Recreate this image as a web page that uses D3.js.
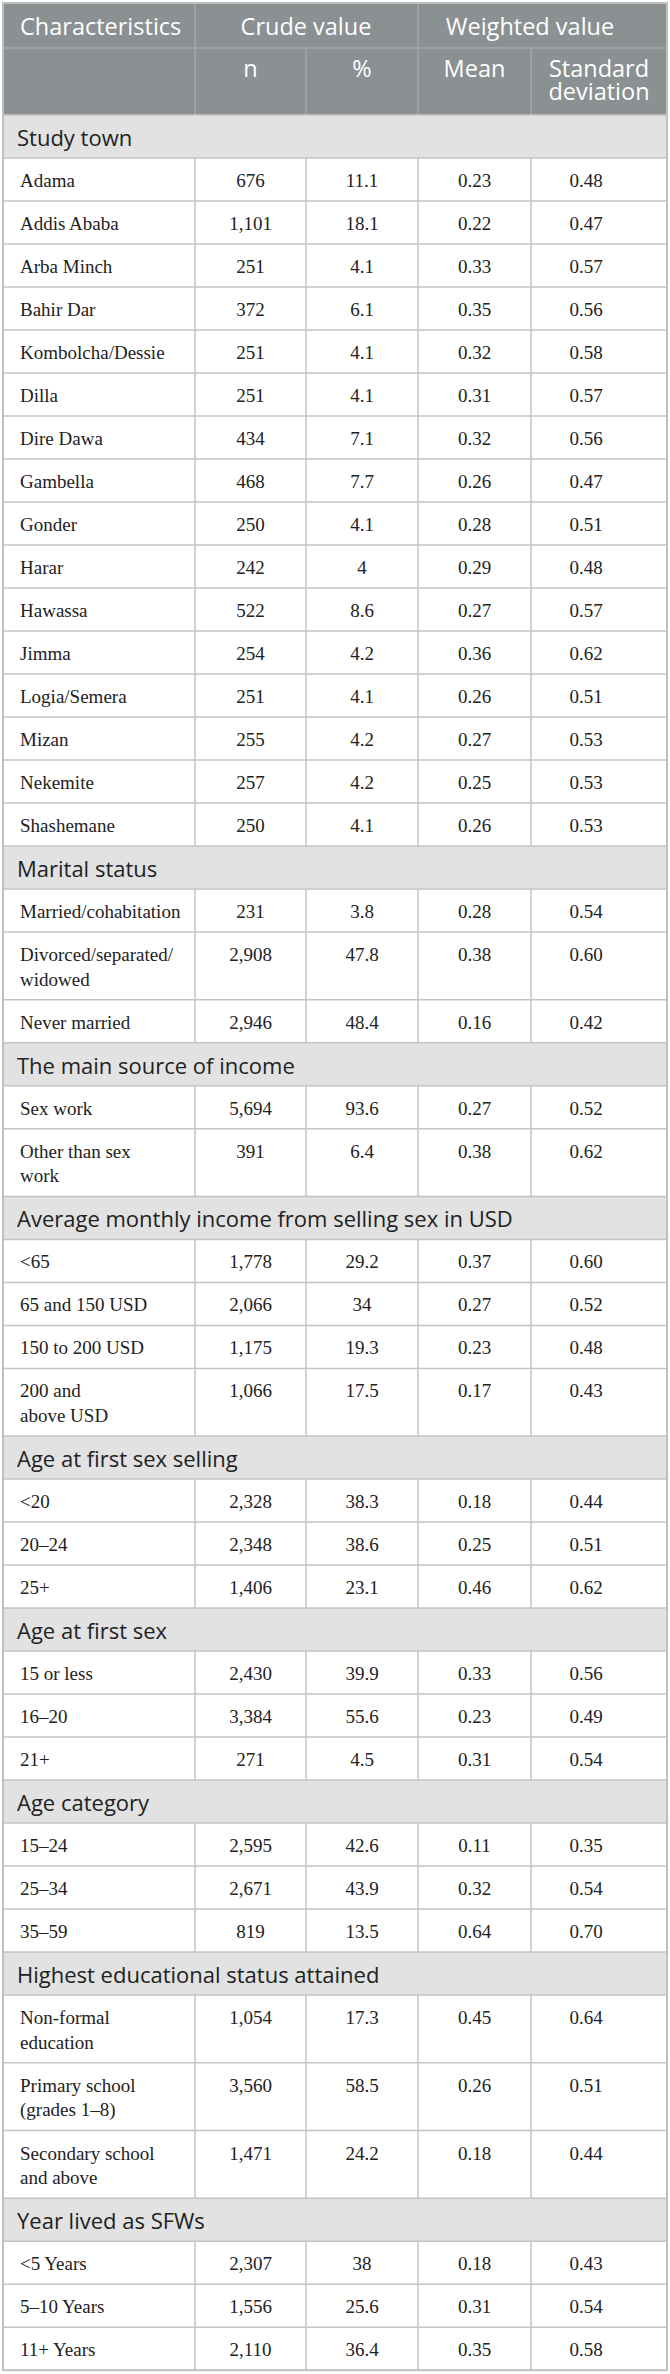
<!DOCTYPE html>
<html>
<head>
<meta charset="utf-8">
<script src="https://cdn.jsdelivr.net/npm/d3@7"></script>
<style>
  body { margin: 0; background: #fff; }
  svg { display: block; }
</style>
</head>
<body>
<div id="chart"></div>
<script>
// table content
var sections = ["Study town", "Marital status", "The main source of income",
  "Average monthly income from selling sex in USD", "Age at first sex selling",
  "Age at first sex", "Age category", "Highest educational status attained", "Year lived as SFWs"];

var categories = [
  ["Adama", "Addis Ababa", "Arba Minch", "Bahir Dar", "Kombolcha/Dessie", "Dilla", "Dire Dawa", "Gambella",
   "Gonder", "Harar", "Hawassa", "Jimma", "Logia/Semera", "Mizan", "Nekemite", "Shashemane"],
  ["Married/cohabitation", "Divorced/separated/|widowed", "Never married"],
  ["Sex work", "Other than sex|work"],
  ["<65", "65 and 150 USD", "150 to 200 USD", "200 and|above USD"],
  ["<20", "20–24", "25+"],
  ["15 or less", "16–20", "21+"],
  ["15–24", "25–34", "35–59"],
  ["Non-formal|education", "Primary school|(grades 1–8)", "Secondary school|and above"],
  ["<5 Years", "5–10 Years", "11+ Years"]
];

var nValues = [
  [676, 1101, 251, 372, 251, 251, 434, 468, 250, 242, 522, 254, 251, 255, 257, 250],
  [231, 2908, 2946],
  [5694, 391],
  [1778, 2066, 1175, 1066],
  [2328, 2348, 1406],
  [2430, 3384, 271],
  [2595, 2671, 819],
  [1054, 3560, 1471],
  [2307, 1556, 2110]
];

var pctValues = [
  [11.1, 18.1, 4.1, 6.1, 4.1, 4.1, 7.1, 7.7, 4.1, 4, 8.6, 4.2, 4.1, 4.2, 4.2, 4.1],
  [3.8, 47.8, 48.4],
  [93.6, 6.4],
  [29.2, 34, 19.3, 17.5],
  [38.3, 38.6, 23.1],
  [39.9, 55.6, 4.5],
  [42.6, 43.9, 13.5],
  [17.3, 58.5, 24.2],
  [38, 25.6, 36.4]
];

var meanValues = [
  [0.23, 0.22, 0.33, 0.35, 0.32, 0.31, 0.32, 0.26, 0.28, 0.29, 0.27, 0.36, 0.26, 0.27, 0.25, 0.26],
  [0.28, 0.38, 0.16],
  [0.27, 0.38],
  [0.37, 0.27, 0.23, 0.17],
  [0.18, 0.25, 0.46],
  [0.33, 0.23, 0.31],
  [0.11, 0.32, 0.64],
  [0.45, 0.26, 0.18],
  [0.18, 0.31, 0.35]
];

var sdValues = [
  [0.48, 0.47, 0.57, 0.56, 0.58, 0.57, 0.56, 0.47, 0.51, 0.48, 0.57, 0.62, 0.51, 0.53, 0.53, 0.53],
  [0.54, 0.60, 0.42],
  [0.52, 0.62],
  [0.60, 0.52, 0.48, 0.43],
  [0.44, 0.51, 0.62],
  [0.56, 0.49, 0.54],
  [0.35, 0.54, 0.70],
  [0.64, 0.51, 0.44],
  [0.43, 0.54, 0.58]
];

var topHeaders = ["Characteristics", "Crude value", "Weighted value"];
var subHeaders = ["", "n", "%", "Mean", "Standard|deviation"];

var width = 670, height = 2374;
var padL = 3, padR = 667, padT = 3;
var head1 = 45, head2 = 67, rowH = 43, lineH = 24.7;

var sansFont = "'Open Sans', 'Noto Sans', sans-serif";
var serifFont = "'Liberation Serif', 'DejaVu Serif', serif";

var svg = d3.select("#chart").append("svg")
  .attr("width", width)
  .attr("height", height);

// column scale: left edges of the five columns
var colKeys = ["label", "n", "pct", "mean", "sd"];
var colX = d3.scaleOrdinal().domain(colKeys).range([padL, 195, 306, 418, 531]);
var colEnd = function(k) {
  var i = colKeys.indexOf(k);
  return i < colKeys.length - 1 ? colX(colKeys[i + 1]) : padR;
};
var colMid = function(k) { return (colX(k) + colEnd(k)) / 2; };
var valueX = { n: colMid("n"), pct: colMid("pct"), mean: colMid("mean"), sd: 586 };

// build flat row list
var rows = [];
sections.forEach(function(s, si) {
  rows.push({ type: "section", label: s, lines: 1 });
  categories[si].forEach(function(c, ci) {
    var parts = c.split("|");
    rows.push({
      type: "data", label: parts, lines: parts.length,
      n: nValues[si][ci], pct: pctValues[si][ci],
      mean: meanValues[si][ci], sd: sdValues[si][ci]
    });
  });
});
var y0 = padT + head1 + head2;
rows.forEach(function(r) {
  r.h = rowH + lineH * (r.lines - 1);
  r.y = y0;
  y0 += r.h;
});

var fmtN = d3.format(",");
var fmt2 = d3.format(".2f");
var fmtPct = function(v) { return String(v); };

// header block
var hdr = svg.append("g");
hdr.append("rect")
  .attr("x", padL).attr("y", padT)
  .attr("width", padR - padL).attr("height", head1 + head2)
  .attr("fill", "#8b9092");
hdr.append("line")
  .attr("x1", padL).attr("x2", padR)
  .attr("y1", padT + head1).attr("y2", padT + head1)
  .attr("stroke", "#a4a9ab").attr("stroke-width", 1.5);
[colX("n"), colX("mean")].forEach(function(x) {
  hdr.append("line")
    .attr("x1", x).attr("x2", x)
    .attr("y1", padT).attr("y2", padT + head1)
    .attr("stroke", "#a4a9ab").attr("stroke-width", 1.5);
});
colKeys.slice(1).forEach(function(k) {
  hdr.append("line")
    .attr("x1", colX(k)).attr("x2", colX(k))
    .attr("y1", padT + head1).attr("y2", padT + head1 + head2)
    .attr("stroke", "#a4a9ab").attr("stroke-width", 1.5);
});

var topX = [20, colX("pct"), 530];
hdr.selectAll("text.top")
  .data(topHeaders)
  .enter().append("text")
    .attr("class", "top")
    .attr("x", function(d, i) { return topX[i]; })
    .attr("y", 35)
    .attr("text-anchor", function(d, i) { return i === 0 ? "start" : "middle"; })
    .style("font-family", sansFont)
    .style("font-size", "23.5px")
    .attr("fill", "#fff")
    .text(function(d) { return d; });

subHeaders.forEach(function(d, i) {
  if (!d) return;
  var k = colKeys[i];
  d.split("|").forEach(function(line, li) {
    hdr.append("text")
      .attr("x", colMid(k))
      .attr("y", 77 + li * 23)
      .attr("text-anchor", "middle")
      .style("font-family", sansFont)
      .style("font-size", "23.5px")
      .attr("fill", "#fff")
      .text(line);
  });
});

// body rows
var body = svg.append("g");
var rowG = body.selectAll("g.row")
  .data(rows)
  .enter().append("g")
    .attr("class", "row")
    .attr("transform", function(d) { return "translate(0," + d.y + ")"; });

rowG.filter(function(d) { return d.type === "section"; })
  .append("rect")
    .attr("x", padL).attr("y", 0)
    .attr("width", padR - padL)
    .attr("height", function(d) { return d.h; })
    .attr("fill", "#e1e2e1");

rowG.filter(function(d) { return d.type === "section"; })
  .append("text")
    .attr("x", 17)
    .attr("y", 31)
    .style("font-family", sansFont)
    .style("font-size", "22px")
    .attr("fill", "#222")
    .text(function(d) { return d.label; });

var dataG = rowG.filter(function(d) { return d.type === "data"; });

// vertical cell borders for data rows
colKeys.slice(1).forEach(function(k) {
  dataG.append("line")
    .attr("x1", colX(k)).attr("x2", colX(k))
    .attr("y1", 0).attr("y2", function(d) { return d.h; })
    .attr("stroke", "#c4c4c4").attr("stroke-width", 1.5);
});

dataG.each(function(d) {
  var g = d3.select(this);
  d.label.forEach(function(line, li) {
    g.append("text")
      .attr("x", 20)
      .attr("y", 29 + li * lineH)
      .style("font-family", serifFont)
      .style("font-size", "19px")
      .attr("fill", "#222")
      .text(line);
  });
  [["n", fmtN(d.n)], ["pct", fmtPct(d.pct)], ["mean", fmt2(d.mean)], ["sd", fmt2(d.sd)]]
    .forEach(function(c) {
      g.append("text")
        .attr("x", valueX[c[0]])
        .attr("y", 29)
        .attr("text-anchor", "middle")
        .style("font-family", serifFont)
        .style("font-size", "19px")
        .attr("fill", "#222")
        .text(c[1]);
    });
});

// horizontal row borders
body.selectAll("line.hrule")
  .data(rows)
  .enter().append("line")
    .attr("class", "hrule")
    .attr("x1", padL).attr("x2", padR)
    .attr("y1", function(d) { return d.y; })
    .attr("y2", function(d) { return d.y; })
    .attr("stroke", "#c4c4c4").attr("stroke-width", 1.5);

// outer frame
svg.append("rect")
  .attr("x", padL).attr("y", padT)
  .attr("width", padR - padL)
  .attr("height", y0 - padT)
  .attr("fill", "none")
  .attr("stroke", "#bfc0c0")
  .attr("stroke-width", 2);
</script>
</body>
</html>
